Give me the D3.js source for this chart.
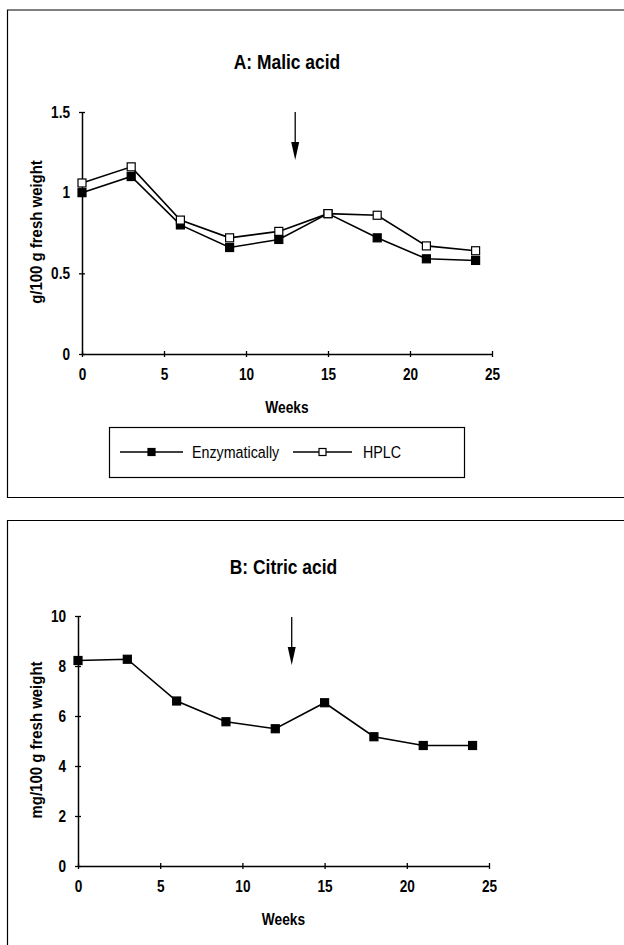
<!DOCTYPE html>
<html>
<head>
<meta charset="utf-8">
<script src="https://cdn.jsdelivr.net/npm/d3@7"></script>
<style>
  body { margin: 0; background: #fff; }
  svg text { font-family: "Liberation Sans", Arial, sans-serif; fill: #000; }
  .tick text { font-size: 16px; font-weight: bold; }
</style>
</head>
<body>
<div id="chart"></div>
<script>
// Chart data
var weeks = [0, 3, 6, 9, 12, 15, 18, 21, 24];
var malicEnzymatic = [1.0, 1.10, 0.80, 0.66, 0.71, 0.87, 0.72, 0.59, 0.58];
var malicHPLC = [1.06, 1.16, 0.83, 0.72, 0.76, 0.87, 0.86, 0.67, 0.64];
var citricEnzymatic = [8.22, 8.27, 6.6, 5.77, 5.49, 6.53, 5.17, 4.82, 4.82];
var xTicks = [0, 5, 10, 15, 20, 25];
var malicTicks = [0, 0.5, 1, 1.5];
var citricTicks = [0, 2, 4, 6, 8, 10];
var arrowWeek = 13;
var legendNames = ['Enzymatically', 'HPLC'];

var width = 624, height = 945;

var svg = d3.select('#chart').append('svg')
	.attr('width', width)
	.attr('height', height);

// no narrow font installed, so squeeze the text horizontally instead
function squeeze(sel, k, rot) {
	sel.each(function() {
		var t = d3.select(this);
		var x = +t.attr('x') || 0, y = +t.attr('y') || 0;
		t.attr('x', 0).attr('y', 0)
			.attr('transform', 'translate(' + x + ',' + y + ')' + (rot ? ' rotate(' + rot + ')' : '') + ' scale(' + k + ',1)');
	});
}

// panel frames
svg.append('path')
	.attr('d', 'M630,10 H7.5 V497.5 H630')
	.attr('fill', 'none').attr('stroke', '#000').attr('stroke-width', 1.2);
svg.append('path')
	.attr('d', 'M630,520.5 H7.5 V950')
	.attr('fill', 'none').attr('stroke', '#000').attr('stroke-width', 1.2);

// Draws one panel
function drawPanel(opts) {
	var x = d3.scaleLinear().domain([0, 25]).range([opts.x0, opts.x1]);
	var y = d3.scaleLinear().domain(opts.yDomain).range([opts.y0, opts.y1]);

	var g = svg.append('g');

	g.append('text')
		.attr('x', (opts.x0 + opts.x1) / 2)
		.attr('y', opts.titleY)
		.attr('text-anchor', 'middle')
		.style('font-size', '21px')
		.style('font-weight', 'bold')
		.text(opts.title)
		.call(squeeze, 0.83);

	// axes, ticks cross the line
	var xAxis = g.append('g')
		.attr('transform', 'translate(0,' + opts.y0 + ')')
		.call(d3.axisBottom(x).tickValues(xTicks).tickSizeInner(3).tickSizeOuter(0).tickPadding(12));
	xAxis.selectAll('.tick line').attr('y1', -3);
	xAxis.selectAll('.tick text').call(squeeze, 0.85);

	var yAxis = g.append('g')
		.attr('transform', 'translate(' + opts.x0 + ',0)')
		.call(d3.axisLeft(y).tickValues(opts.yTicks).tickSizeInner(3).tickSizeOuter(0).tickPadding(9)
			.tickFormat(d3.format('')));
	yAxis.selectAll('.tick line').attr('x1', 3);
	yAxis.selectAll('.tick text').call(squeeze, 0.85);

	g.selectAll('.domain').attr('stroke-width', 1.5);
	g.selectAll('.tick line').attr('stroke-width', 1.3);

	g.append('text')
		.attr('x', (opts.x0 + opts.x1) / 2)
		.attr('y', opts.y0 + 59)
		.attr('text-anchor', 'middle')
		.style('font-size', '16px')
		.style('font-weight', 'bold')
		.text('Weeks')
		.call(squeeze, 0.86);

	g.append('text')
		.attr('x', 42).attr('y', opts.yLabelY)
		.attr('text-anchor', 'middle')
		.style('font-size', '17px')
		.style('font-weight', 'bold')
		.text(opts.yLabel)
		.call(squeeze, 0.88, -90);

	// arrow marking week 13
	var ax = x(arrowWeek);
	g.append('line')
		.attr('x1', ax).attr('x2', ax)
		.attr('y1', opts.arrowTop).attr('y2', opts.arrowTop + 32)
		.attr('stroke', '#000').attr('stroke-width', 1.3);
	g.append('path')
		.attr('d', 'M' + (ax - 4) + ',' + (opts.arrowTop + 30) + ' L' + (ax + 4) + ',' + (opts.arrowTop + 30) +
			' L' + ax + ',' + (opts.arrowTop + 48) + ' Z')
		.attr('fill', '#000');

	var line = d3.line()
		.x(function(d) { return x(d[0]); })
		.y(function(d) { return y(d[1]); });

	opts.series.forEach(function(s) {
		var pts = weeks.map(function(w, i) { return [w, s.values[i]]; });
		g.append('path')
			.datum(pts)
			.attr('d', line)
			.attr('fill', 'none')
			.attr('stroke', '#000')
			.attr('stroke-width', 1.6);
		g.selectAll(null)
			.data(pts)
			.enter().append('rect')
			.attr('x', function(d) { return x(d[0]) - 4; })
			.attr('y', function(d) { return y(d[1]) - 4; })
			.attr('width', 8).attr('height', 8)
			.attr('fill', s.filled ? '#000' : '#fff')
			.attr('stroke', '#000')
			.attr('stroke-width', 1.2);
	});
}

drawPanel({
	title: 'A: Malic acid',
	titleY: 69,
	x0: 82, x1: 492, y0: 354, y1: 112,
	yDomain: [0, 1.5],
	yTicks: malicTicks,
	yLabel: 'g/100 g fresh weight',
	yLabelY: 232,
	arrowTop: 112,
	series: [
		{values: malicEnzymatic, filled: true},
		{values: malicHPLC, filled: false}
	]
});

drawPanel({
	title: 'B: Citric acid',
	titleY: 574,
	x0: 78, x1: 489, y0: 866, y1: 616,
	yDomain: [0, 10],
	yTicks: citricTicks,
	yLabel: 'mg/100 g fresh weight',
	yLabelY: 740,
	arrowTop: 617,
	series: [
		{values: citricEnzymatic, filled: true}
	]
});

// legend for panel A
var legend = svg.append('g');
legend.append('rect')
	.attr('x', 109.5).attr('y', 427.5)
	.attr('width', 355).attr('height', 50)
	.attr('fill', '#fff').attr('stroke', '#000').attr('stroke-width', 1.2);

var legendItems = [
	{name: legendNames[0], filled: true, x0: 120, x1: 183, tx: 192},
	{name: legendNames[1], filled: false, x0: 293, x1: 352, tx: 363}
];
legendItems.forEach(function(d) {
	legend.append('line')
		.attr('x1', d.x0).attr('x2', d.x1)
		.attr('y1', 452).attr('y2', 452)
		.attr('stroke', '#000').attr('stroke-width', 1.4);
	legend.append('rect')
		.attr('x', (d.x0 + d.x1) / 2 - 3.5).attr('y', 448.5)
		.attr('width', 7).attr('height', 7)
		.attr('fill', d.filled ? '#000' : '#fff')
		.attr('stroke', '#000').attr('stroke-width', 1.2);
	legend.append('text')
		.attr('x', d.tx).attr('y', 458)
		.style('font-size', '17px')
		.text(d.name)
		.call(squeeze, 0.84);
});
</script>
</body>
</html>
